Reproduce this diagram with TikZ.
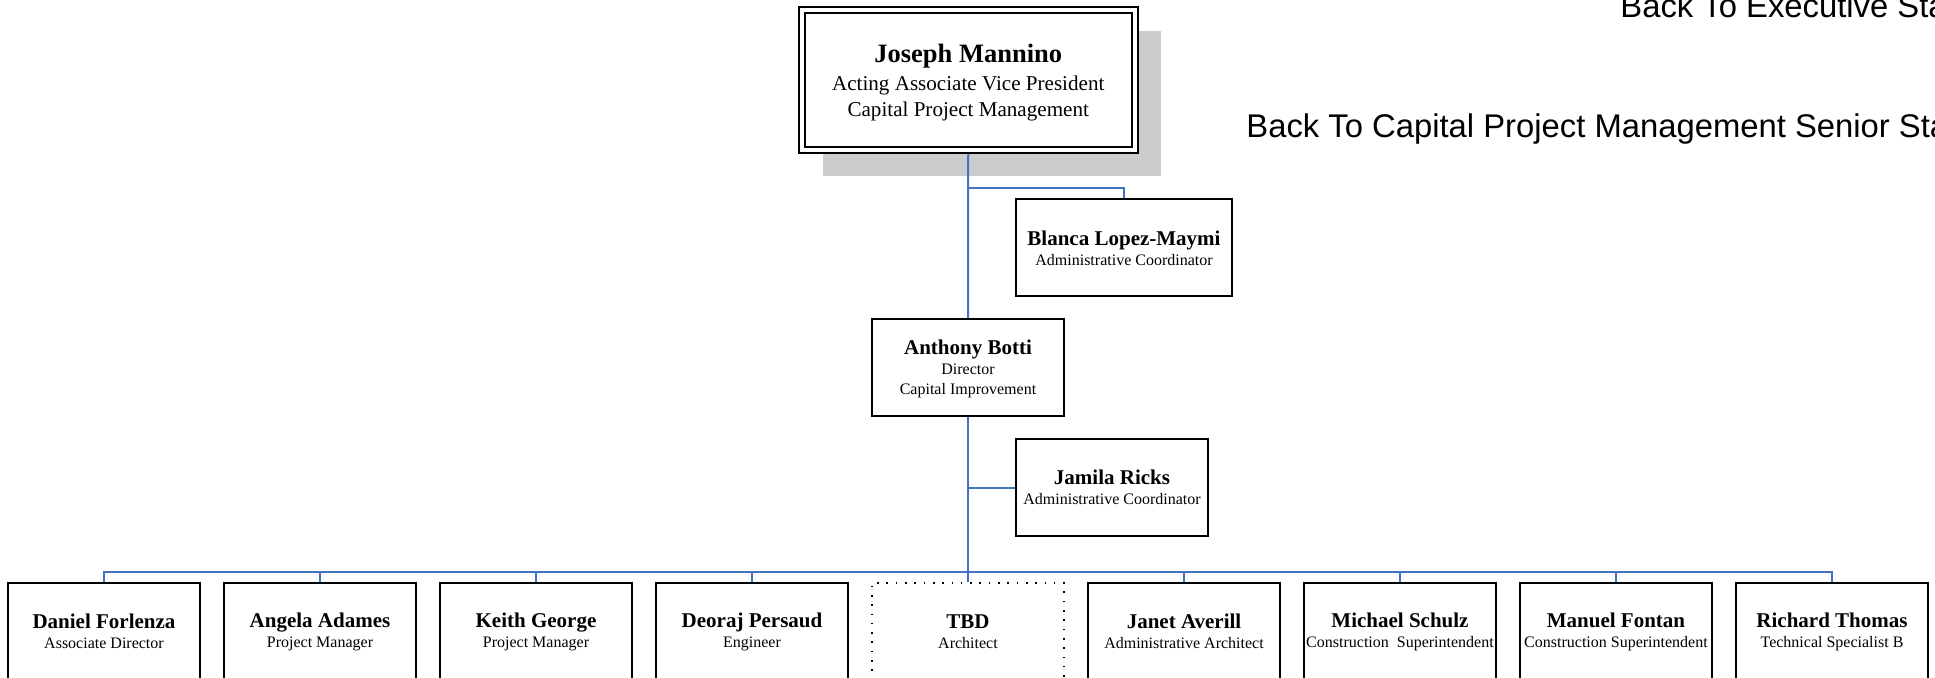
\documentclass[tikz,border=0pt]{standalone}
\usepackage{fontspec}
\setmainfont{Liberation Serif}
\newfontfamily\arialfont{Liberation Sans}
\usetikzlibrary{backgrounds}
\definecolor{connblue}{RGB}{68,114,196}
\definecolor{shadowgray}{RGB}{204,204,204}
\newcommand{\orgname}[1]{{\fontsize{10.5}{10}\selectfont\bfseries #1}}
\begin{document}
\begin{tikzpicture}[x=0.5pt,y=-0.5pt,
  box/.style={draw=black, line width=1pt, fill=white, minimum width=96pt,
    minimum height=48.5pt, inner sep=0pt, align=center,
    font=\fontsize{8}{10}\selectfont},
  tbdbox/.style={box, draw=black, line width=0.8pt, dash pattern=on 0.8pt off 3.85pt},
  topbox/.style={draw=black, line width=1pt, double=white, double distance=2pt,
    fill=white, minimum width=166.25pt, minimum height=69.75pt, inner sep=0pt,
    align=center, font=\fontsize{10.55}{12.75}\selectfont},
  conn/.style={draw=connblue, line width=1pt},
  linktext/.style={anchor=base west, inner sep=0pt, font=\arialfont\fontsize{16.4}{19}\selectfont}
]
\useasboundingbox (0,0) rectangle (1935,677);
\clip (0,0) rectangle (1935,677);

% nodes
\node[topbox] (jm) at (968.25,79.75) {\rule{0pt}{12pt}{\fontsize{13.25}{12.75}\selectfont\bfseries Joseph Mannino}\\[1.5pt]Acting Associate Vice President\\Capital Project Management};
\node[box, minimum width=108pt] (blanca) at (1124,247.5) {\rule{0pt}{8pt}\orgname{Blanca Lopez-Maymi}\\Administrative Coordinator};
\node[box] (anthony) at (968,367.5) {\rule{0pt}{9pt}\orgname{Anthony Botti}\\Director\\Capital Improvement};
\node[box] (jamila) at (1112,487.5) {\orgname{Jamila Ricks}\\Administrative Coordinator};

\node[box] (b0) at (104,631.5) {\orgname{Daniel Forlenza}\\Associate Director};
\node[box] (b1) at (320,631.5) {\orgname{Angela Adames}\\Project Manager};
\node[box] (b2) at (536,631.5) {\orgname{Keith George}\\Project Manager};
\node[box] (b3) at (752,631.5) {\orgname{Deoraj Persaud}\\Engineer};
\node[tbdbox] (b4) at (968,631.5) {\orgname{TBD}\\Architect};
\node[box] (b5) at (1184,631.5) {\orgname{Janet Averill}\\Administrative Architect};
\node[box] (b6) at (1400,631.5) {\orgname{Michael Schulz}\\Construction\ \ Superintendent};
\node[box] (b7) at (1616,631.5) {\orgname{Manuel Fontan}\\Construction Superintendent};
\node[box] (b8) at (1832,631.5) {\orgname{Richard Thomas}\\Technical Specialist B};

\node[linktext] (linkexec) at (1620,17) {Back To Executive Staff};
\node[linktext] (linkcpm) at (1246,137) {Back To Capital Project Management Senior Staff};

\coordinate (jb) at (968,188);
\coordinate (bar) at (968,572);

\begin{scope}[on background layer]
  \fill[shadowgray] (823,31) rectangle (1161,176);
  \draw[conn] (jm.south) -- (anthony.north);
  \draw[conn] (jb) -| (blanca.north);
  \draw[conn] (anthony.south) -- (bar);
  \draw[conn] (jamila.west) -- (jamila.west -| anthony.south);
  \foreach \i in {0,...,8} {
    \draw[conn] (b\i.north) |- (bar);
  }
\end{scope}
\end{tikzpicture}
\end{document}
